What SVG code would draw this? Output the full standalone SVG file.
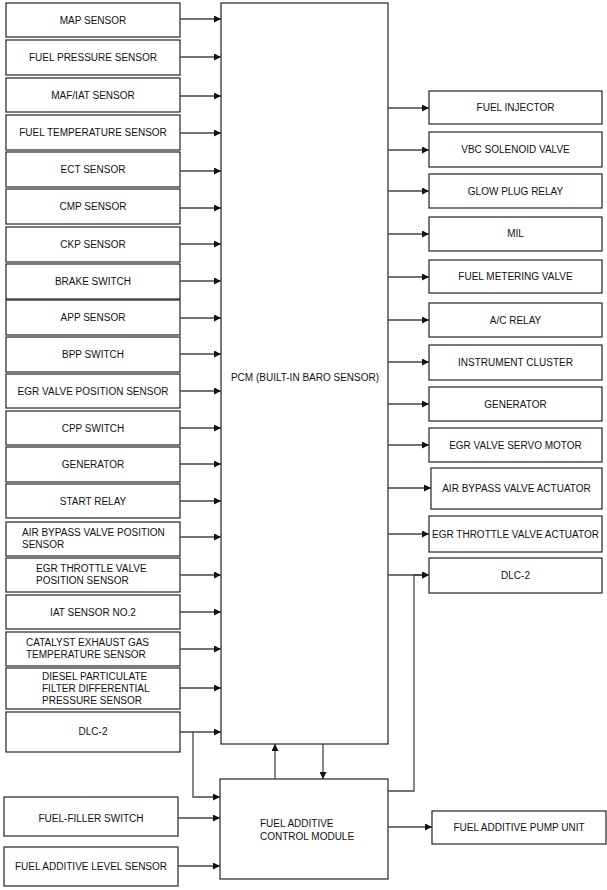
<svg xmlns="http://www.w3.org/2000/svg" width="607" height="890" viewBox="0 0 607 890">
<style>
.b{fill:#fff;stroke:#222;stroke-width:1.2}
.t{font-family:"Liberation Sans",Arial,sans-serif;font-size:10px;fill:#111}
.c{text-anchor:middle}
.l{fill:none;stroke:#444;stroke-width:1.3}
</style>
<defs>
<marker id="a" viewBox="0 0 10 10" refX="10" refY="5" markerWidth="7" markerHeight="7" markerUnits="userSpaceOnUse" orient="auto">
<path d="M0,0L10,5L0,10z" fill="#111"/>
</marker>
</defs>
<rect width="607" height="890" fill="#fff"/>

<g id="pcm"><rect class="b" x="221" y="3" width="167" height="741"/><text class="t c" x="305" y="381">PCM (BUILT-IN BARO SENSOR)</text></g>

<g id="in-map"><rect class="b" x="6" y="3" width="174" height="34"/><text class="t c" x="93" y="23.5">MAP SENSOR</text></g>
<g id="in-fps"><rect class="b" x="6" y="40" width="174" height="35"/><text class="t c" x="93" y="61">FUEL PRESSURE SENSOR</text></g>
<g id="in-maf"><rect class="b" x="6" y="78" width="174" height="34"/><text class="t c" x="93" y="98.5">MAF/IAT SENSOR</text></g>
<g id="in-fts"><rect class="b" x="6" y="115" width="174" height="35"/><text class="t c" x="93" y="136">FUEL TEMPERATURE SENSOR</text></g>
<g id="in-ect"><rect class="b" x="6" y="152" width="174" height="35"/><text class="t c" x="93" y="173">ECT SENSOR</text></g>
<g id="in-cmp"><rect class="b" x="6" y="189" width="174" height="35"/><text class="t c" x="93" y="210">CMP SENSOR</text></g>
<g id="in-ckp"><rect class="b" x="6" y="227" width="174" height="35"/><text class="t c" x="93" y="248">CKP SENSOR</text></g>
<g id="in-brake"><rect class="b" x="6" y="264" width="174" height="35"/><text class="t c" x="93" y="285">BRAKE SWITCH</text></g>
<g id="in-app"><rect class="b" x="6" y="300" width="174" height="35"/><text class="t c" x="93" y="321">APP SENSOR</text></g>
<g id="in-bpp"><rect class="b" x="6" y="337" width="174" height="35"/><text class="t c" x="93" y="358">BPP SWITCH</text></g>
<g id="in-egrvps"><rect class="b" x="6" y="374" width="174" height="34"/><text class="t c" x="93" y="394.5">EGR VALVE POSITION SENSOR</text></g>
<g id="in-cpp"><rect class="b" x="6" y="411" width="174" height="34"/><text class="t c" x="93" y="431.5">CPP SWITCH</text></g>
<g id="in-gen"><rect class="b" x="6" y="447" width="174" height="35"/><text class="t c" x="93" y="468">GENERATOR</text></g>
<g id="in-start"><rect class="b" x="6" y="484" width="174" height="34"/><text class="t c" x="93" y="504.5">START RELAY</text></g>
<g id="in-abv"><rect class="b" x="6" y="522" width="174" height="34"/><text class="t" x="22" y="536">AIR BYPASS VALVE POSITION</text><text class="t" x="22" y="548">SENSOR</text></g>
<g id="in-egrt"><rect class="b" x="6" y="558" width="174" height="34"/><text class="t" x="36" y="572">EGR THROTTLE VALVE</text><text class="t" x="36" y="584">POSITION SENSOR</text></g>
<g id="in-iat2"><rect class="b" x="6" y="595" width="174" height="34"/><text class="t c" x="93" y="615.5">IAT SENSOR NO.2</text></g>
<g id="in-cat"><rect class="b" x="6" y="632" width="174" height="34"/><text class="t" x="26" y="646">CATALYST EXHAUST GAS</text><text class="t" x="26" y="658">TEMPERATURE SENSOR</text></g>
<g id="in-dpf"><rect class="b" x="6" y="668" width="174" height="41"/><text class="t" x="42" y="680">DIESEL PARTICULATE</text><text class="t" x="42" y="692">FILTER DIFFERENTIAL</text><text class="t" x="42" y="704">PRESSURE SENSOR</text></g>
<g id="in-dlc"><rect class="b" x="6" y="712" width="174" height="40"/><text class="t c" x="93" y="735">DLC-2</text></g>

<g id="out-inj"><rect class="b" x="429" y="91" width="173" height="33"/><text class="t c" x="515.5" y="111">FUEL INJECTOR</text></g>
<g id="out-vbc"><rect class="b" x="429" y="132" width="173" height="35"/><text class="t c" x="515.5" y="153">VBC SOLENOID VALVE</text></g>
<g id="out-glow"><rect class="b" x="429" y="174" width="173" height="34"/><text class="t c" x="515.5" y="194.5">GLOW PLUG RELAY</text></g>
<g id="out-mil"><rect class="b" x="429" y="217" width="173" height="34"/><text class="t c" x="515.5" y="236.5">MIL</text></g>
<g id="out-fmv"><rect class="b" x="429" y="260" width="173" height="33"/><text class="t c" x="515.5" y="280">FUEL METERING VALVE</text></g>
<g id="out-ac"><rect class="b" x="429" y="303" width="173" height="34"/><text class="t c" x="515.5" y="323.5">A/C RELAY</text></g>
<g id="out-ic"><rect class="b" x="429" y="345" width="173" height="35"/><text class="t c" x="515.5" y="366">INSTRUMENT CLUSTER</text></g>
<g id="out-gen"><rect class="b" x="429" y="387" width="173" height="34"/><text class="t c" x="515.5" y="407.5">GENERATOR</text></g>
<g id="out-egrs"><rect class="b" x="429" y="428" width="173" height="34"/><text class="t c" x="515.5" y="448.5">EGR VALVE SERVO MOTOR</text></g>
<g id="out-abva"><rect class="b" x="431" y="468" width="171" height="41"/><text class="t c" x="516.5" y="492">AIR BYPASS VALVE ACTUATOR</text></g>
<g id="out-egrta"><rect class="b" x="429" y="516" width="173" height="36"/><text class="t c" x="515.5" y="537.5">EGR THROTTLE VALVE ACTUATOR</text></g>
<g id="out-dlc"><rect class="b" x="429" y="558" width="173" height="35"/><text class="t c" x="515.5" y="579">DLC-2</text></g>

<g id="facm"><rect class="b" x="220" y="779" width="168" height="100"/><text class="t" x="260" y="827">FUEL ADDITIVE</text><text class="t" x="260" y="840">CONTROL MODULE</text></g>
<g id="ffs"><rect class="b" x="4" y="797" width="174" height="39"/><text class="t c" x="91" y="821.5">FUEL-FILLER SWITCH</text></g>
<g id="fals"><rect class="b" x="4" y="847" width="174" height="39"/><text class="t c" x="91" y="870">FUEL ADDITIVE LEVEL SENSOR</text></g>
<g id="fapu"><rect class="b" x="432" y="811" width="174" height="33"/><text class="t c" x="519" y="830.5">FUEL ADDITIVE PUMP UNIT</text></g>

<g id="connectors" class="l" marker-end="url(#a)">
<path d="M180,19H221"/>
<path d="M180,57H221"/>
<path d="M180,96H221"/>
<path d="M180,133H221"/>
<path d="M180,171H221"/>
<path d="M180,208H221"/>
<path d="M180,244H221"/>
<path d="M180,281H221"/>
<path d="M180,318H221"/>
<path d="M180,354H221"/>
<path d="M180,391H221"/>
<path d="M180,428H221"/>
<path d="M180,464H221"/>
<path d="M180,501H221"/>
<path d="M180,537H221"/>
<path d="M180,575H221"/>
<path d="M180,612H221"/>
<path d="M180,649H221"/>
<path d="M180,688H221"/>
<path d="M180,732H221"/>
<path d="M193,732V797H220"/>
<path d="M178,818H220"/>
<path d="M178,866H220"/>
<path d="M388,108H429"/>
<path d="M388,150H429"/>
<path d="M388,191H429"/>
<path d="M388,234H429"/>
<path d="M388,277H429"/>
<path d="M388,320H429"/>
<path d="M388,362H429"/>
<path d="M388,404H429"/>
<path d="M388,445H429"/>
<path d="M388,488H431"/>
<path d="M388,534H429"/>
<path d="M388,575H429"/>
<path d="M388,791H414V575H429"/>
<path d="M275,779V744"/>
<path d="M323,744V779"/>
<path d="M388,827H432"/>
</g>
</svg>
